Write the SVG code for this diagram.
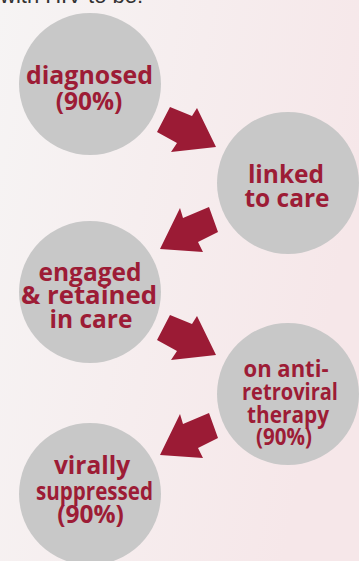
<svg xmlns="http://www.w3.org/2000/svg" xmlns:xlink="http://www.w3.org/1999/xlink" width="359" height="561" viewBox="0 0 359 561">
<defs>
<linearGradient id="bg" x1="0" y1="0" x2="1" y2="0.3">
<stop offset="0" stop-color="#f6f4f4"/>
<stop offset="1" stop-color="#f6e7e9"/>
</linearGradient>
<polygon id="arrowR" points="13,0 35,9 40,1 59,40 14,45 20,36 0,25"/>
<polygon id="arrowL" points="0,42 20,1 23,11 49,0 58,25 38,35 43,45"/>
</defs>
<style>
.node circle{fill:#c8c8c8}
.node text{font-family:"Open Sans","Noto Sans",sans-serif;font-weight:700;font-size:24.5px;fill:#9d1c36;text-anchor:middle}
.node.small text{font-size:23px}
.arrow{fill:#9b1b35}
.top{font-family:"Liberation Sans",Arial,sans-serif;font-size:22px;fill:#333}
</style>
<rect width="359" height="561" fill="url(#bg)"/>
<text class="top" x="0" y="3">with HIV to be:</text>
<g id="connectors">
<use xlink:href="#arrowR" class="arrow" transform="translate(157,107)"/>
<use xlink:href="#arrowL" class="arrow" transform="translate(160,207)"/>
<use xlink:href="#arrowR" class="arrow" transform="translate(157,315)"/>
<use xlink:href="#arrowL" class="arrow" transform="translate(160,413)"/>
</g>
<g id="diagnosed" class="node">
<circle cx="90" cy="84" r="71"/>
<text x="89.5" y="84" textLength="127" lengthAdjust="spacingAndGlyphs">diagnosed</text>
<text x="89" y="110">(90%)</text>
</g>
<g id="linked" class="node">
<circle cx="288" cy="183" r="71"/>
<text x="286" y="183">linked</text>
<text x="287" y="207">to care</text>
</g>
<g id="engaged" class="node">
<circle cx="90" cy="292" r="71"/>
<text x="90" y="281">engaged</text>
<text x="89" y="304" textLength="136" lengthAdjust="spacingAndGlyphs">&amp; retained</text>
<text x="91" y="328">in care</text>
</g>
<g id="art" class="node small">
<circle cx="288" cy="394" r="71"/>
<text x="286" y="377" textLength="85" lengthAdjust="spacingAndGlyphs">on anti-</text>
<text x="290" y="400" textLength="96" lengthAdjust="spacingAndGlyphs">retroviral</text>
<text x="288" y="423" textLength="82" lengthAdjust="spacingAndGlyphs">therapy</text>
<text x="284" y="445" textLength="56" lengthAdjust="spacingAndGlyphs">(90%)</text>
</g>
<g id="suppressed" class="node">
<circle cx="90" cy="494" r="71"/>
<text x="92" y="474">virally</text>
<text x="94.5" y="500" textLength="117" lengthAdjust="spacingAndGlyphs">suppressed</text>
<text x="90.5" y="523">(90%)</text>
</g>
</svg>
